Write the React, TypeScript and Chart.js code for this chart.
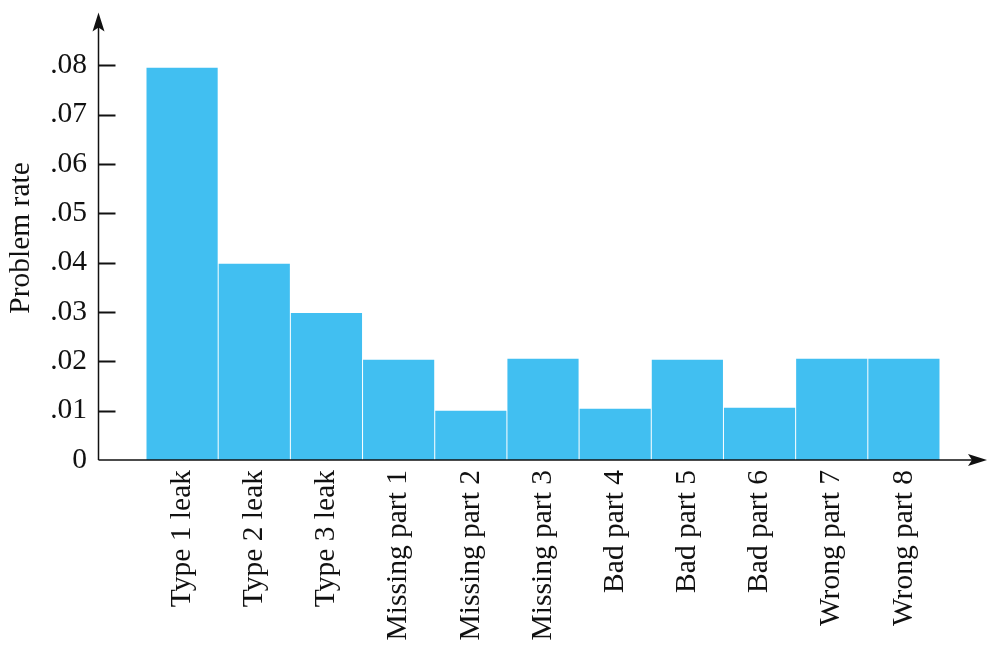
import React, { useEffect, useRef } from "react";
import { Chart, registerables } from "chart.js";

Chart.register(...registerables);

const categories = [
  "Type 1 leak",
  "Type 2 leak",
  "Type 3 leak",
  "Missing part 1",
  "Missing part 2",
  "Missing part 3",
  "Bad part 4",
  "Bad part 5",
  "Bad part 6",
  "Wrong part 7",
  "Wrong part 8",
];
const problemRates = [0.0795, 0.0398, 0.0298, 0.0203, 0.01, 0.0205, 0.0104, 0.0203, 0.0106, 0.0205, 0.0205];
const yTickValues = [0, 0.01, 0.02, 0.03, 0.04, 0.05, 0.06, 0.07, 0.08];
const yTitle = "Problem rate";

const FONT = "'Liberation Serif', 'Times New Roman', serif";
const FONT_SIZE = 29.5;
const INK = "#111111";
const BAR = "#41bff1";

const axesPlugin = {
  id: "customAxes",
  afterDraw(chart: any) {
    const { ctx, chartArea, scales } = chart;
    const y = scales.y;
    const axisX = 98.5;
    const bottom = chartArea.bottom;
    const topTip = 12.5;
    const rightTip = 987;
    ctx.save();
    ctx.strokeStyle = INK;
    ctx.fillStyle = INK;
    ctx.lineWidth = 1.5;
    ctx.beginPath();
    ctx.moveTo(axisX, bottom);
    ctx.lineTo(axisX, topTip + 6);
    ctx.stroke();
    ctx.beginPath();
    ctx.moveTo(axisX, bottom);
    ctx.lineTo(rightTip - 6, bottom);
    ctx.stroke();
    ctx.beginPath();
    ctx.moveTo(axisX, topTip);
    ctx.lineTo(axisX + 6, topTip + 19);
    ctx.lineTo(axisX, topTip + 15);
    ctx.lineTo(axisX - 6, topTip + 19);
    ctx.closePath();
    ctx.fill();
    ctx.beginPath();
    ctx.moveTo(rightTip, bottom);
    ctx.lineTo(rightTip - 19, bottom - 6);
    ctx.lineTo(rightTip - 15, bottom);
    ctx.lineTo(rightTip - 19, bottom + 6);
    ctx.closePath();
    ctx.fill();
    ctx.lineWidth = 2;
    for (const v of yTickValues) {
      if (v === 0) continue;
      const py = Math.round(y.getPixelForValue(v)) + 0.5;
      ctx.beginPath();
      ctx.moveTo(axisX, py);
      ctx.lineTo(axisX + 17, py);
      ctx.stroke();
    }
    ctx.restore();
  },
};

export default function App() {
  const ref = useRef<HTMLCanvasElement | null>(null);
  useEffect(() => {
    if (!ref.current) return;
    const chart = new Chart(ref.current, {
      type: "bar",
      data: {
        labels: categories,
        datasets: [
          {
            data: problemRates,
            backgroundColor: BAR,
            borderWidth: 0,
            barPercentage: 0.986,
            categoryPercentage: 1,
          },
        ],
      },
      options: {
        animation: false,
        responsive: false,
        maintainAspectRatio: false,
        layout: { padding: { top: 16, right: 55, left: 0, bottom: 0 } },
        plugins: { legend: { display: false }, tooltip: { enabled: false } },
        scales: {
          x: {
            type: "category",
            grid: { display: false, drawTicks: false },
            border: { display: false },
            ticks: {
              minRotation: 90,
              maxRotation: 90,
              padding: 10,
              color: INK,
              font: { family: FONT, size: FONT_SIZE },
              autoSkip: false,
            },
            afterFit: (scale: any) => {
              scale.height = 188;
            },
          },
          y: {
            min: 0,
            max: 0.09,
            grid: { display: false, drawTicks: false },
            border: { display: false },
            ticks: {
              stepSize: 0.01,
              padding: 59,
              color: INK,
              font: { family: FONT, size: FONT_SIZE },
              callback: (v: any) => {
                const n = Number(v);
                if (n > 0.085) return "";
                if (Math.abs(n) < 1e-9) return "0";
                return n.toFixed(2).replace(/^0/, "");
              },
            },
            title: {
              display: true,
              text: yTitle,
              color: INK,
              font: { family: FONT, size: FONT_SIZE },
              padding: { top: 4, bottom: 0 },
            },
            afterFit: (scale: any) => {
              scale.width = 146;
              scale.paddingTop = 0;
              scale.paddingBottom = 0;
            },
          },
        },
      },
      plugins: [axesPlugin],
    });
    return () => chart.destroy();
  }, []);
  return (
    <div style={{ position: "fixed", left: 0, top: 0, width: 995, height: 648, background: "#fff" }}>
      <canvas ref={ref} width={995} height={648} style={{ width: 995, height: 648, display: "block" }} />
    </div>
  );
}
